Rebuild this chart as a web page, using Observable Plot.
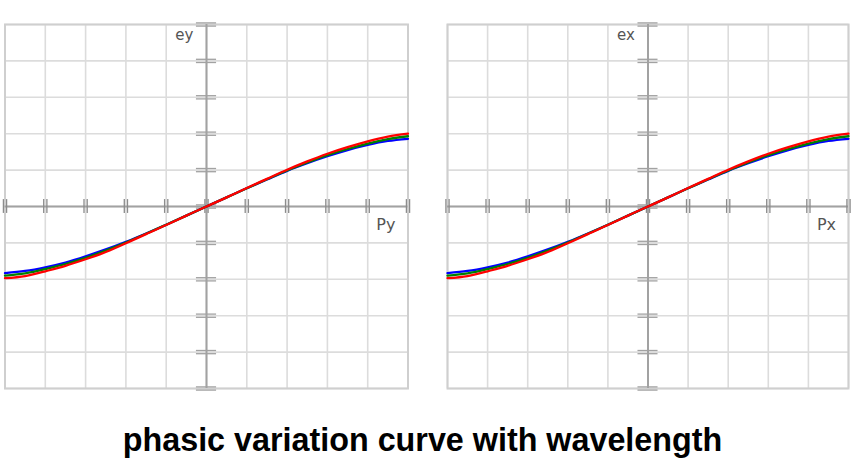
<!DOCTYPE html>
<html>
<head>
<meta charset="utf-8">
<script src="https://cdn.jsdelivr.net/npm/d3@7"></script>
<script src="https://cdn.jsdelivr.net/npm/@observablehq/plot@0.6"></script>
<style>
  html, body { margin: 0; padding: 0; background: #fff; width: 855px; height: 471px; overflow: hidden; }
  #wrap { position: relative; width: 855px; height: 471px; }
  .panel { position: absolute; top: 0; }
  #title { position: absolute; left: 0; width: 845px; top: 422px; text-align: center;
           font-family: "Liberation Sans", Arial, sans-serif; font-weight: bold; font-size: 32.3px; color: #000; }
</style>
</head>
<body>
<div id="wrap">
  <div class="panel" id="left" style="left:0px"></div>
  <div class="panel" id="right" style="left:430px"></div>
  <div id="title">phasic variation curve with wavelength</div>
</div>
<script>
// Polarisation position (P) sample points
const P = [-5, -4.5, -4, -3.5, -3, -2.5, -2, -1.5, -1, -0.5, 0, 0.5, 1, 1.5, 2, 2.5, 3, 3.5, 4, 4.5, 5];
// phase values per wavelength series
const eBlue  = [-1.83, -1.77, -1.67, -1.54, -1.37, -1.18, -0.97, -0.74, -0.50, -0.25, 0, 0.25, 0.50, 0.74, 0.98, 1.19, 1.38, 1.55, 1.69, 1.80, 1.86];
const eGreen = [-1.90, -1.84, -1.72, -1.58, -1.41, -1.21, -0.99, -0.75, -0.50, -0.25, 0, 0.25, 0.50, 0.75, 0.99, 1.21, 1.41, 1.58, 1.73, 1.85, 1.93];
const eRed   = [-1.97, -1.91, -1.78, -1.63, -1.45, -1.25, -1.01, -0.76, -0.51, -0.25, 0, 0.25, 0.51, 0.76, 1.01, 1.24, 1.45, 1.63, 1.79, 1.92, 2.00];
const seriesNames = ["blue", "green", "red"];
const seriesColors = ["#2c6a9c", "#4cae4f", "#e5452b"];
const ticks = [-5, -4, -3, -2, -1, 0, 1, 2, 3, 4, 5];
const panels = [
  {id: "left",  yLabel: "ey", xLabel: "Py", width: 420, marginLeft: 4.5, marginRight: 12.5},
  {id: "right", yLabel: "ex", xLabel: "Px", width: 425, marginLeft: 17, marginRight: 7}
];

const rows = [];
[eBlue, eGreen, eRed].forEach((arr, s) => {
  arr.forEach((v, i) => rows.push({series: seriesNames[s], p: P[i], e: v}));
});

function makePanel(cfg) {
  const grey = "#a2a2a2";
  const chart = Plot.plot({
    width: cfg.width,
    height: 400,
    marginLeft: cfg.marginLeft,
    marginRight: cfg.marginRight,
    marginTop: 24,
    marginBottom: 12,
    style: {background: "transparent", fontFamily: "'DejaVu Sans', Verdana, sans-serif"},
    x: {domain: [-5, 5], axis: null},
    y: {domain: [-5, 5], axis: null},
    color: {domain: seriesNames, range: seriesColors},
    marks: [
      Plot.ruleX(ticks, {stroke: "#dcdcdc", strokeWidth: 1.6}),
      Plot.ruleY(ticks, {stroke: "#dcdcdc", strokeWidth: 1.6}),
      Plot.frame({stroke: "#cfcfcf", strokeWidth: 2}),
      Plot.ruleX([0], {stroke: grey, strokeWidth: 2}),
      Plot.ruleY([0], {stroke: grey, strokeWidth: 2}),
      // double tick marks on horizontal axis
      Plot.ruleX(ticks, {y1: -0.19, y2: 0.19, dx: -1.6, stroke: "#8c8c8c", strokeWidth: 1.3}),
      Plot.ruleX(ticks, {y1: -0.19, y2: 0.19, dx: 1.6, stroke: "#8c8c8c", strokeWidth: 1.3}),
      // double tick marks on vertical axis
      Plot.ruleY(ticks, {x1: -0.25, x2: 0.25, dy: -1.6, stroke: grey, strokeWidth: 1.3}),
      Plot.ruleY(ticks, {x1: -0.25, x2: 0.25, dy: 1.6, stroke: grey, strokeWidth: 1.3}),
      Plot.line(rows, {x: "p", y: "e", z: "series", stroke: "series", strokeWidth: 2.3, curve: "natural"}),
      Plot.text([{x: -0.55, y: 4.72}], {x: "x", y: "y", text: () => cfg.yLabel, fill: "#555", fontSize: 15, textAnchor: "middle"}),
      Plot.text([{x: 4.45, y: -0.5}], {x: "x", y: "y", text: () => cfg.xLabel, fill: "#555", fontSize: 16, textAnchor: "middle"})
    ]
  });
  document.getElementById(cfg.id).appendChild(chart);
}
panels.forEach(makePanel);
</script>
</body>
</html>
